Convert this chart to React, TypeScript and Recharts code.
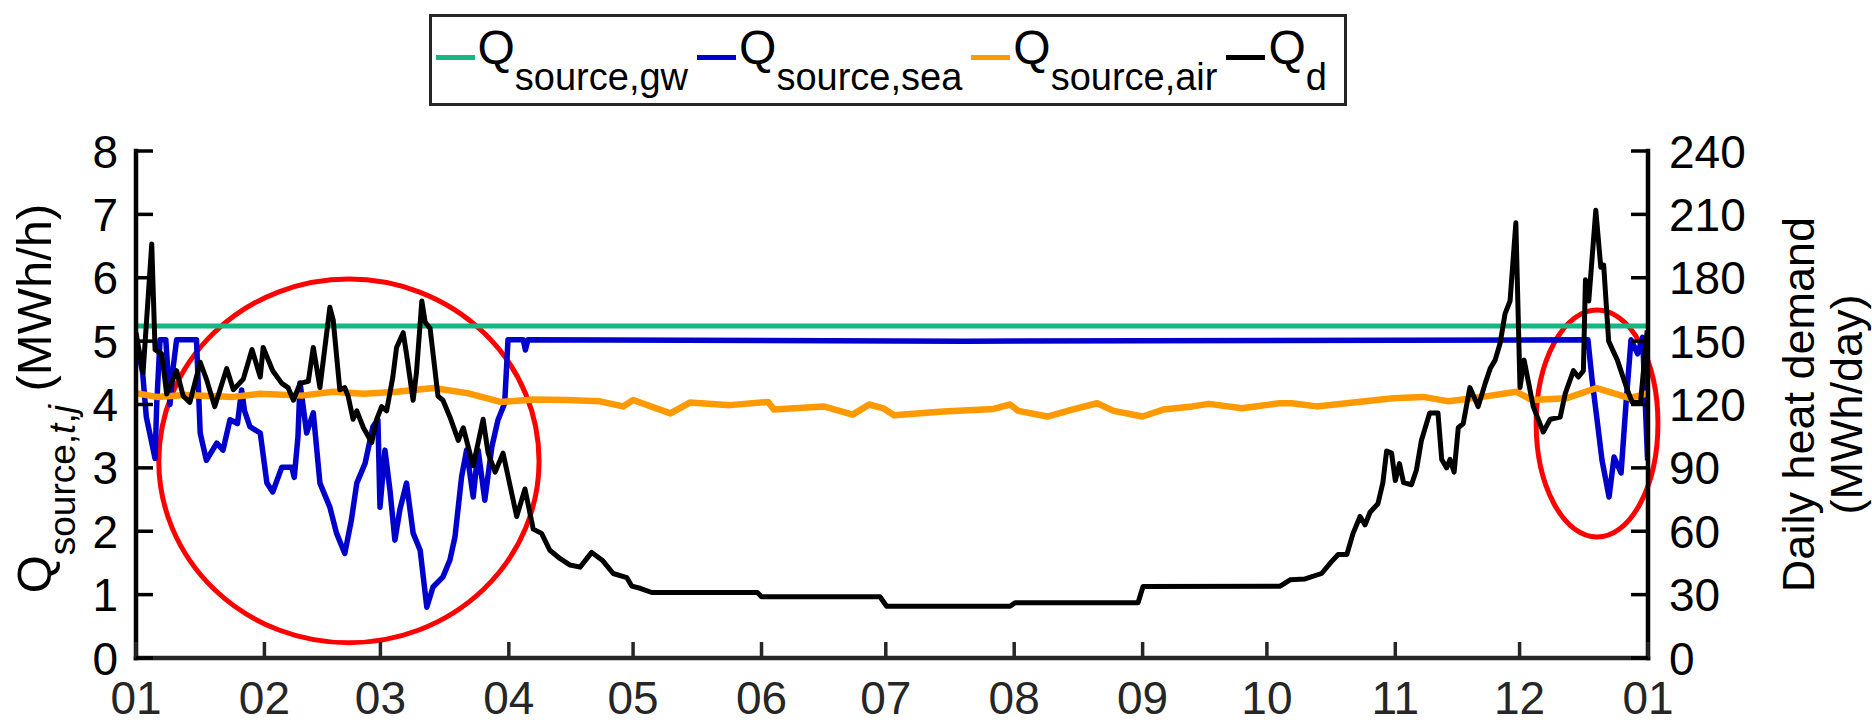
import { ComposedChart, Line, XAxis, YAxis, ReferenceArea } from 'recharts';

const FONT = '"Liberation Sans", Arial, Helvetica, sans-serif';

// x axis: day of year, ticks on month boundaries
const monthTicks = [0, 31, 59, 90, 120, 151, 181, 212, 243, 273, 304, 334, 365];
const monthLabels = ['01', '02', '03', '04', '05', '06', '07', '08', '09', '10', '11', '12', '01'];

const leftTicks = [0, 1, 2, 3, 4, 5, 6, 7, 8];
const rightTicks = [0, 30, 60, 90, 120, 150, 180, 210, 240];

// Q_source,gw (MWh/h)
const gwDays = [0, 365];
const gwValues = [5.24, 5.24];

// Q_source,sea (MWh/h)
const seaDays = [
  0, 1.6, 2.5, 4.6, 5.0, 5.8, 7.2, 8.2, 9.0, 9.8, 14.6, 15.5, 17, 19.5, 21, 22.7, 24.5, 25.5, 26.2, 27.5,
  30, 31.6, 33, 35.2, 37.6, 38.2, 39.1, 39.6, 41.2, 42.8, 44.4, 46.8, 48.4, 50.4, 52, 53.3, 55.3, 57.2,
  58.4, 58.9, 60.1, 61.3, 62.5, 63.7, 65.3, 66.9, 68.6, 70.2, 71.7, 74.1, 75.8, 77, 78.6, 79.8, 81.4,
  82.6, 84.2, 85.9, 87.4, 89, 89.8, 93.5, 94, 94.6, 200, 350.5, 351.5, 352.7, 353.9, 355.6, 356.8,
  358.5, 359.7, 360.9, 362.5, 363.7, 364.9,
];
const seaValues = [
  5.02, 4.5, 3.8, 3.15, 4.0, 5.02, 5.02, 4.0, 4.6, 5.02, 5.02, 3.55, 3.12, 3.39, 3.28, 3.76, 3.7, 4.23, 3.9, 3.65,
  3.55, 2.76, 2.62, 3.01, 3.01, 2.85, 3.49, 4.34, 3.55, 3.87, 2.76, 2.38, 1.97, 1.65, 2.18, 2.76, 3.07, 3.65,
  3.76, 2.38, 3.28, 2.65, 1.86, 2.34, 2.76, 1.97, 1.7, 0.8, 1.12, 1.28, 1.55, 1.91, 2.86, 3.28, 2.54,
  3.28, 2.49, 3.33, 3.76, 4.02, 5.02, 5.02, 4.86, 5.02, 5.0, 5.02, 4.39, 3.76, 3.12, 2.54, 3.17,
  2.92, 4.02, 5.02, 4.8, 5.06, 3.12,
];

// Q_source,air (MWh/h)
const airDays = [
  0, 5, 12, 23.5, 30, 40, 47.6, 55, 63, 71.8, 80, 88, 96, 104, 112, 117.6, 120, 129, 133.7, 143.4, 152.6, 154,
  166, 173, 177, 180.4, 183, 194.9, 207, 211, 213, 220, 226, 232, 236, 243, 248, 255, 259, 267, 276, 279,
  285, 295, 303.5, 310.7, 317, 325, 333.3, 337, 345.4, 352.6, 360.6, 365,
];
const airValues = [
  4.18, 4.12, 4.15, 4.12, 4.17, 4.14, 4.2, 4.17, 4.2, 4.26, 4.18, 4.04, 4.08, 4.07, 4.05, 3.97, 4.07, 3.86, 4.03, 3.99, 4.04, 3.92,
  3.97, 3.84, 4.0, 3.94, 3.83, 3.89, 3.93, 4.0, 3.9, 3.81, 3.92, 4.02, 3.9, 3.81, 3.92, 3.97, 4.01, 3.94, 4.02, 4.02,
  3.97, 4.04, 4.1, 4.12, 4.05, 4.12, 4.2, 4.07, 4.1, 4.26, 4.1, 4.18,
];

// Q_d, daily heat demand (MWh/day)
const demandDays = [
  0, 1.7, 3.8, 4.6, 6.2, 7.4, 9.8, 11.4, 13, 15.5, 17, 19, 21.9, 23.5, 25.9, 28, 30, 30.7, 33, 35.2, 36.7,
  38, 39.6, 41.6, 42.8, 44.4, 46.8, 47.6, 49.2, 50.4, 51.2, 52.4, 53.3, 54.9, 56.9, 58.1, 59.3, 60.5, 62,
  62.9, 64.5, 65.3, 66.9, 67.7, 69, 69.8, 71, 72.9, 74.1, 75.8, 77.8, 79, 81.4, 83.8, 85, 86.7, 88.6,
  91.9, 93.9, 95.9, 97.9, 99.9, 102.4, 104.8, 107.2, 110, 112.7, 115.2, 118.5, 119.7, 121.7, 124.5, 150,
  151, 179.6, 181.2, 211, 212.2, 241.9, 243.1, 276.2, 278.6, 282.2, 286.2, 288.6, 290.2, 292.3, 293.8,
  295.5, 296.7, 297.9, 299.8, 301, 301.9, 303.1, 304, 305, 306, 307.9, 309.1, 310.3, 312.3, 314.3, 315.2,
  316.4, 317.2, 318.2, 319.2, 320.4, 322, 324, 325.7, 326.9, 328.1, 329.3, 330.5, 331.7, 333.1, 334.1,
  335.1, 337.3, 339.7, 341.4, 343.8, 345, 347, 348.2, 349.4, 349.9, 350.7, 352.4, 353.6, 354.3, 355.5,
  357.6, 360, 361.2, 363.2, 364.8,
];
const demandValues = [
  154, 135, 196, 146, 144, 125, 136, 124, 121, 140, 132, 119, 137, 127, 132, 146, 133, 147, 136, 130, 128,
  122, 130, 131, 147, 128, 166, 160, 127, 128, 124, 113, 117, 109, 102, 113, 119, 117, 133,
  147, 154, 144, 122, 135, 169, 159, 156, 124, 122, 114, 103, 109, 91, 113, 97, 88, 97,
  67, 80, 61, 59, 51, 47, 44, 43, 50, 46, 40, 38, 34, 33, 31, 31,
  29, 29, 24.5, 24.5, 26.2, 26.2, 33.8, 34, 37, 37.4, 40, 45.6, 49, 49, 59,
  67, 63, 69, 73, 83, 98, 97, 84, 92, 83, 82, 89, 103, 116, 116, 94,
  90, 94, 88, 109, 111, 128, 119, 130, 137, 141, 149, 163, 169, 206, 128,
  141, 119, 107, 113, 114, 125, 136, 133, 136, 179, 169, 212, 185, 186, 150,
  141, 127, 121, 121, 155,
];

// highlighted periods (red ellipses): [day1, day2, Q1, Q2]
const highlights = [
  [5.5, 97.3, 0.24, 5.98],
  [338, 367.4, 1.91, 5.49],
];

const zip = (days: number[], vals: number[], key: string) =>
  days.map((d, i) => ({ day: d, [key]: vals[i] }));

const series = [
  { key: 'gw', sub: 'source,gw', color: '#14b684', width: 5, axis: 'left', data: zip(gwDays, gwValues, 'gw') },
  { key: 'sea', sub: 'source,sea', color: '#0000cd', width: 5.5, axis: 'left', data: zip(seaDays, seaValues, 'sea') },
  { key: 'air', sub: 'source,air', color: '#ff9900', width: 6.5, axis: 'left', data: zip(airDays, airValues, 'air') },
  { key: 'qd', sub: 'd', color: '#000000', width: 5, axis: 'right', data: zip(demandDays, demandValues, 'qd') },
];

const BottomTick = (p: any) => {
  const i = monthTicks.indexOf(p.payload.value);
  return (
    <g>
      <line x1={p.x} x2={p.x} y1={p.y} y2={p.y - 16} stroke="#262626" strokeWidth={3.5} />
      <text x={p.x} y={p.y + 56} textAnchor="middle" fontSize={46} fontFamily={FONT} fill="#262626">
        {monthLabels[i]}
      </text>
    </g>
  );
};

const TopTick = (p: any) => (
  <line x1={p.x} x2={p.x} y1={p.y} y2={p.y + 16} stroke="#262626" strokeWidth={3.5} />
);

const LeftTick = (p: any) => (
  <g>
    <line x1={p.x} x2={p.x + 17} y1={p.y} y2={p.y} stroke="#000" strokeWidth={3.5} />
    <text x={p.x - 18} y={p.y + 16.5} textAnchor="end" fontSize={46} fontFamily={FONT} fill="#000">
      {p.payload.value}
    </text>
  </g>
);

const RightTick = (p: any) => (
  <g>
    <line x1={p.x} x2={p.x - 17} y1={p.y} y2={p.y} stroke="#000" strokeWidth={3.5} />
    <text x={p.x + 21} y={p.y + 16.5} textAnchor="start" fontSize={46} fontFamily={FONT} fill="#000">
      {p.payload.value}
    </text>
  </g>
);

const LeftTitle = (props: any) => {
  const vb = props.viewBox;
  const cx = vb.x + 51;
  const cy = vb.y + vb.height / 2 - 6;
  return (
    <text x={cx} y={cy} transform={`rotate(-90 ${cx} ${cy})`} textAnchor="middle" fontSize={49} fontFamily={FONT} fill="#000">
      Q
      <tspan fontSize={37} dy={24}>
        source,<tspan fontStyle="italic">t</tspan>,<tspan fontStyle="italic">j</tspan>
      </tspan>
      <tspan dy={-24}> (MWh/h)</tspan>
    </text>
  );
};

const RightTitle = (props: any) => {
  const vb = props.viewBox;
  const cx = vb.x + 166;
  const cy = vb.y + vb.height / 2;
  return (
    <text x={cx} y={cy} transform={`rotate(-90 ${cx} ${cy})`} textAnchor="middle" fontSize={45} fontFamily={FONT} fill="#000">
      <tspan x={cx} dy={0}>Daily heat demand</tspan>
      <tspan x={cx} dy={48}>(MWh/day)</tspan>
    </text>
  );
};

const ellipseShape = (p: any) => (
  <ellipse
    cx={p.x + p.width / 2}
    cy={p.y + p.height / 2}
    rx={Math.abs(p.width / 2)}
    ry={Math.abs(p.height / 2)}
    fill="none"
    stroke="#ff0000"
    strokeWidth={5}
  />
);

function LegendBox() {
  return (
    <div
      style={{
        position: 'absolute',
        left: 429,
        top: 14,
        width: 918,
        height: 92,
        boxSizing: 'border-box',
        border: '3.5px solid #262626',
        background: '#fff',
        fontFamily: FONT,
        whiteSpace: 'nowrap',
        color: '#000',
      }}
    >
      <div style={{ position: 'absolute', left: 3.5, top: 7, fontSize: 48, lineHeight: '48px' }}>
        {series.map((s, i) => (
          <span key={s.key} style={{ marginLeft: i ? 9 : 0 }}>
            <span
              style={{
                display: 'inline-block',
                width: 39,
                height: 5,
                background: s.color,
                marginBottom: 4.5,
                marginRight: 3,
                verticalAlign: 'baseline',
              }}
            />
            Q<span style={{ fontSize: 38, verticalAlign: '-26px' }}>{s.sub}</span>
          </span>
        ))}
      </div>
    </div>
  );
}

export default function App() {
  return (
    <div style={{ position: 'absolute', left: 0, top: 0, width: 1872, height: 724, background: '#fff' }}>
      <ComposedChart width={1872} height={724} margin={{ top: 151, right: 0, bottom: 0, left: 0 }}>
        <XAxis
          dataKey="day"
          type="number"
          domain={[0, 365]}
          ticks={monthTicks}
          interval={0}
          height={66}
          tickSize={0}
          tickMargin={0}
          tickLine={false}
          tick={BottomTick}
          axisLine={{ stroke: '#262626', strokeWidth: 4.5, strokeLinecap: 'square' }}
          allowDataOverflow
        />
        <XAxis
          xAxisId="top"
          orientation="top"
          dataKey="day"
          type="number"
          domain={[0, 365]}
          ticks={monthTicks}
          interval={0}
          height={0}
          tickSize={0}
          tickMargin={0}
          tickLine={false}
          tick={TopTick}
          axisLine={{ stroke: '#262626', strokeWidth: 4.5, strokeLinecap: 'square' }}
          allowDataOverflow
        />
        <YAxis
          yAxisId="left"
          type="number"
          domain={[0, 8]}
          ticks={leftTicks}
          interval={0}
          width={136}
          tickSize={0}
          tickMargin={0}
          tickLine={false}
          tick={LeftTick}
          axisLine={{ stroke: '#000', strokeWidth: 4.5, strokeLinecap: 'square' }}
          label={LeftTitle}
          allowDataOverflow
        />
        <YAxis
          yAxisId="right"
          orientation="right"
          type="number"
          domain={[0, 240]}
          ticks={rightTicks}
          interval={0}
          width={224}
          tickSize={0}
          tickMargin={0}
          tickLine={false}
          tick={RightTick}
          axisLine={{ stroke: '#000', strokeWidth: 4.5, strokeLinecap: 'square' }}
          label={RightTitle}
          allowDataOverflow
        />
        {series.map((s) => (
          <Line
            key={s.key}
            data={s.data}
            dataKey={s.key}
            yAxisId={s.axis}
            type="linear"
            stroke={s.color}
            strokeWidth={s.width}
            strokeLinejoin="round"
            dot={false}
            activeDot={false}
            isAnimationActive={false}
          />
        ))}
        {highlights.map((h, i) => (
          <ReferenceArea
            key={i}
            x1={h[0]}
            x2={h[1]}
            y1={h[2]}
            y2={h[3]}
            yAxisId="left"
            ifOverflow="visible"
            shape={ellipseShape}
          />
        ))}
      </ComposedChart>
      <LegendBox />
    </div>
  );
}
